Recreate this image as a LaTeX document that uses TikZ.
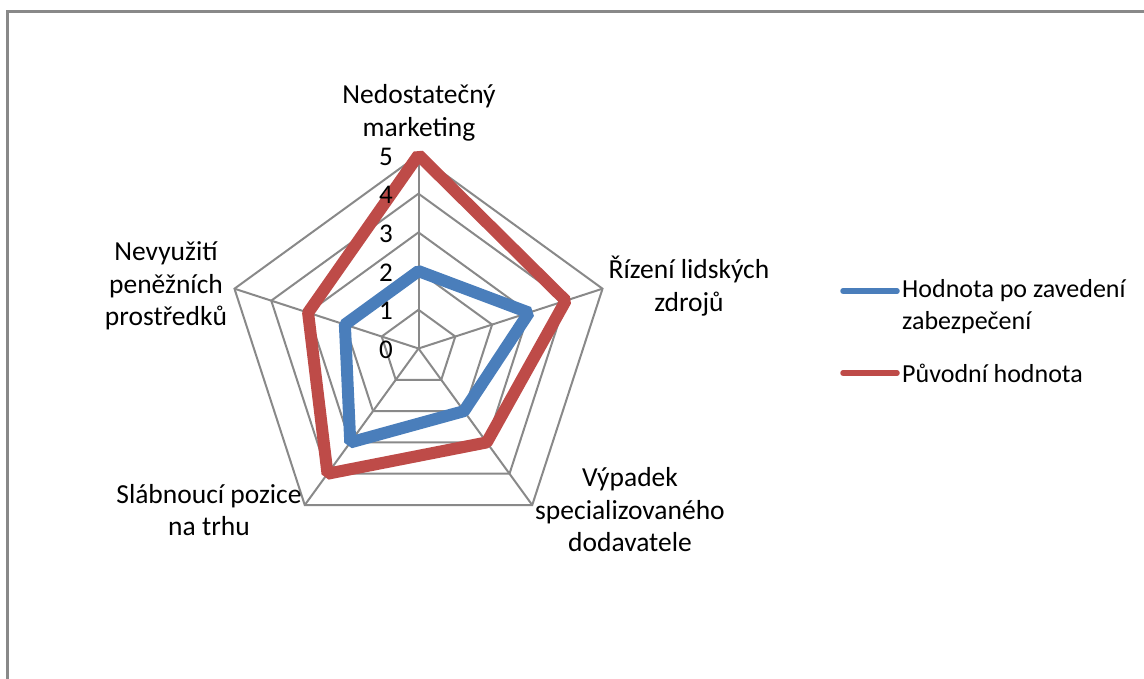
\documentclass[tikz,border=0pt]{standalone}
\usepackage{fontspec}
\setmainfont{Carlito}
\usetikzlibrary{calc}
\definecolor{gridgray}{HTML}{898989}
\definecolor{seriesblue}{HTML}{4A7EBB}
\definecolor{seriesred}{HTML}{BE4B48}
\tikzset{
  gridline/.style={draw=gridgray, line width=2pt, line join=miter},
  series/.style={line width=12pt, line join=bevel},
  axislabel/.style={align=center, inner sep=0pt, font=\fontsize{27.5}{32.5}\selectfont},
  ticklabel/.style={anchor=east, inner sep=0pt, font=\fontsize{27}{32.5}\selectfont},
  legendtext/.style={anchor=west, align=left, inner sep=0pt, font=\fontsize{26}{32}\selectfont},
  legendline/.style={line width=5.5pt, line cap=round},
}
\begin{document}
\begin{tikzpicture}[x=1pt, y=1pt]
\useasboundingbox (0,0) rectangle (1144,678);
% outer chart frame (runs off the right and bottom edges)
\draw[draw=gridgray, line width=3pt] (7,-30) -- (7,666) -- (1170,666);

\coordinate (C) at (418.5,329.5);
\def\unit{38.7}
% concentric pentagons for levels 1..5
\foreach \lv in {1,...,5} {
  \draw[gridline] ($(C)+(90:\lv*\unit)$) -- ($(C)+(18:\lv*\unit)$) -- ($(C)+(-54:\lv*\unit)$)
     -- ($(C)+(-126:\lv*\unit)$) -- ($(C)+(162:\lv*\unit)$) -- cycle;
}
% spokes
\foreach \a in {90,18,-54,-126,162} {
  \draw[gridline] (C) -- ($(C)+(\a:5*\unit)$);
}

% series: value after measures
\draw[series, draw=seriesblue] ($(C)+(90:2*\unit)$) -- ($(C)+(18:3*\unit)$) -- ($(C)+(-54:2*\unit)$)
   -- ($(C)+(-126:3*\unit)$) -- ($(C)+(162:2*\unit)$) -- cycle;
% series: original value
\draw[series, draw=seriesred] ($(C)+(90:5*\unit)$) -- ($(C)+(18:4*\unit)$) -- ($(C)+(-54:3*\unit)$)
   -- ($(C)+(-126:4*\unit)$) -- ($(C)+(162:3*\unit)$) -- cycle;

% tick labels along the vertical axis
\foreach \lv in {0,...,5} {
  \node[ticklabel] (t\lv) at ($(C)+(-25.5,\lv*\unit-1.5)$) {\lv};
}

% category labels
\node[axislabel] (cat1) at (419,565) {Nedostatečný\\marketing};
\node[axislabel] (cat2) at (689,392) {Řízení lidských\\zdrojů};
\node[axislabel] (cat3) at (630,168) {Výpadek\\specializovaného\\dodavatele};
\node[axislabel] (cat4) at (209,168) {Slábnoucí pozice\\na trhu};
\node[axislabel] (cat5) at (166,392) {Nevyužití\\peněžních\\prostředků};

% legend
\coordinate (lb1) at (843,387);
\coordinate (lb2) at (897,387);
\draw[legendline, seriesblue] (lb1) -- (lb2);
\node[legendtext] (leg1) at (902,371) {Hodnota po zavedení\\zabezpečení};
\coordinate (lr1) at (843,305);
\coordinate (lr2) at (897,305);
\draw[legendline, seriesred] (lr1) -- (lr2);
\node[legendtext] (leg2) at (902,305) {Původní hodnota};
\end{tikzpicture}
\end{document}
